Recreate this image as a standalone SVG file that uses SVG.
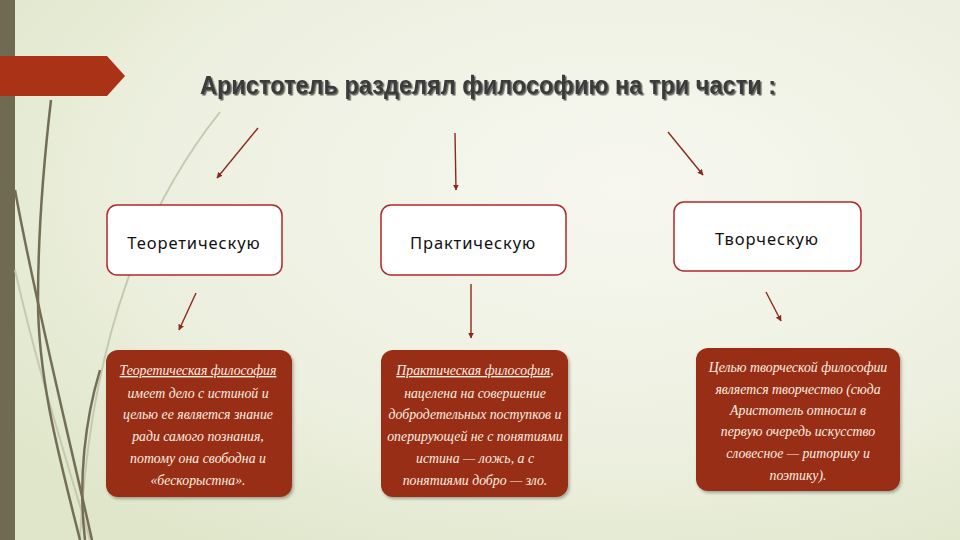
<svg xmlns="http://www.w3.org/2000/svg" width="960" height="540" viewBox="0 0 960 540">
<defs>
<radialGradient id="bg" cx="0.65" cy="0.35" r="0.8">
<stop offset="0" stop-color="#f7f7f0"/>
<stop offset="0.6" stop-color="#edf0e0"/>
<stop offset="1" stop-color="#dfe6c9"/>
</radialGradient>
<marker id="ah" viewBox="0 0 10 10" refX="9" refY="5" markerWidth="6" markerHeight="6" orient="auto-start-reverse" markerUnits="userSpaceOnUse">
<path d="M0,0 L10,5 L0,10 z" fill="#8b2a1a"/>
</marker>
<filter id="sh" x="-5%" y="-20%" width="110%" height="140%">
<feDropShadow dx="1.5" dy="1.5" stdDeviation="0.6" flood-color="#000" flood-opacity="0.6"/>
</filter>
<filter id="bs" x="-5%" y="-5%" width="115%" height="115%">
<feDropShadow dx="1.5" dy="2" stdDeviation="1.5" flood-color="#000" flood-opacity="0.3"/>
</filter>
<style>
.top{fill:#ffffff;stroke:#b0282a;stroke-width:1.5}
.bot{fill:#992e18;stroke:none;filter:url(#bs)}
.tt{font-family:"Noto Sans","DejaVu Sans",sans-serif;font-size:16.5px;letter-spacing:0.9px;fill:#111;text-anchor:middle}
.bt{font-family:"Liberation Serif","DejaVu Serif",serif;font-style:italic;font-size:13.8px;fill:#fbeee0;text-anchor:middle}
.con{stroke:#8b2a1a;stroke-width:1.4;fill:none;marker-end:url(#ah)}
.deco{fill:none;stroke:#756d55;stroke-width:2.5}
.decol{fill:none;stroke:#c5c9b0;stroke-width:2}
</style>
</defs>
<rect width="960" height="540" fill="url(#bg)"/>
<rect x="0" y="0" width="15" height="540" fill="#716a52"/>
<g id="decor">
<path class="decol" d="M220,112 C150,200 90,330 80,540"/>
<path class="decol" d="M15,270 C40,380 70,470 90,540"/>
<path class="deco" d="M51,100 C44,160 38,230 38,300 C38,380 60,460 80,540"/>
<path class="deco" d="M15,190 C35,300 65,420 92,540"/>
<path class="deco" d="M100,370 C85,420 78,480 85,540"/>
</g>
<path d="M0,56 L107,56 L125,76 L107,96 L0,96 z" fill="#a93217"/>
<text x="488" y="94" text-anchor="middle" font-family="'Liberation Sans','DejaVu Sans',sans-serif" font-weight="bold" font-size="25" fill="#3a3a3a" filter="url(#sh)" textLength="576" lengthAdjust="spacingAndGlyphs">Аристотель разделял философию на три части :</text>
<g id="connectors">
<line class="con" x1="258" y1="128" x2="217" y2="178"/>
<line class="con" x1="455" y1="133" x2="456" y2="190"/>
<line class="con" x1="668" y1="132" x2="703" y2="175"/>
<line class="con" x1="196" y1="293" x2="179" y2="330"/>
<line class="con" x1="471" y1="284" x2="471" y2="338"/>
<line class="con" x1="766" y1="292" x2="781" y2="321"/>
</g>
<g id="n1">
<rect class="top" x="107" y="205" width="175" height="70" rx="10"/>
<text class="tt" x="194" y="249">Теоретическую</text>
</g>
<g id="n2">
<rect class="top" x="381" y="205" width="185" height="70" rx="10"/>
<text class="tt" x="473" y="249">Практическую</text>
</g>
<g id="n3">
<rect class="top" x="674" y="202" width="187" height="69" rx="10"/>
<text class="tt" x="767" y="245">Творческую</text>
</g>
<g id="n4">
<rect class="bot" x="106" y="350" width="186" height="147" rx="12"/>
<text class="bt" x="198" y="375" text-decoration="underline">Теоретическая философия</text>
<text class="bt" x="198" y="398">имеет дело с истиной и</text>
<text class="bt" x="198" y="419">целью ее является знание</text>
<text class="bt" x="198" y="441">ради самого познания,</text>
<text class="bt" x="198" y="463">потому она свободна и</text>
<text class="bt" x="198" y="485">«бескорыстна».</text>
</g>
<g id="n5">
<rect class="bot" x="381" y="350" width="187" height="147" rx="12"/>
<text class="bt" x="475" y="375"><tspan text-decoration="underline">Практическая философия</tspan>,</text>
<text class="bt" x="475" y="398">нацелена на совершение</text>
<text class="bt" x="475" y="419">добродетельных поступков и</text>
<text class="bt" x="475" y="441">оперирующей не с понятиями</text>
<text class="bt" x="475" y="463">истина — ложь, а с</text>
<text class="bt" x="475" y="485">понятиями добро — зло.</text>
</g>
<g id="n6">
<rect class="bot" x="696" y="348" width="204" height="143" rx="12"/>
<text class="bt" x="798" y="372">Целью творческой философии</text>
<text class="bt" x="798" y="394">является творчество (сюда</text>
<text class="bt" x="798" y="415">Аристотель относил в</text>
<text class="bt" x="798" y="436">первую очередь искусство</text>
<text class="bt" x="798" y="458">словесное — риторику и</text>
<text class="bt" x="798" y="480">поэтику).</text>
</g>
</svg>
